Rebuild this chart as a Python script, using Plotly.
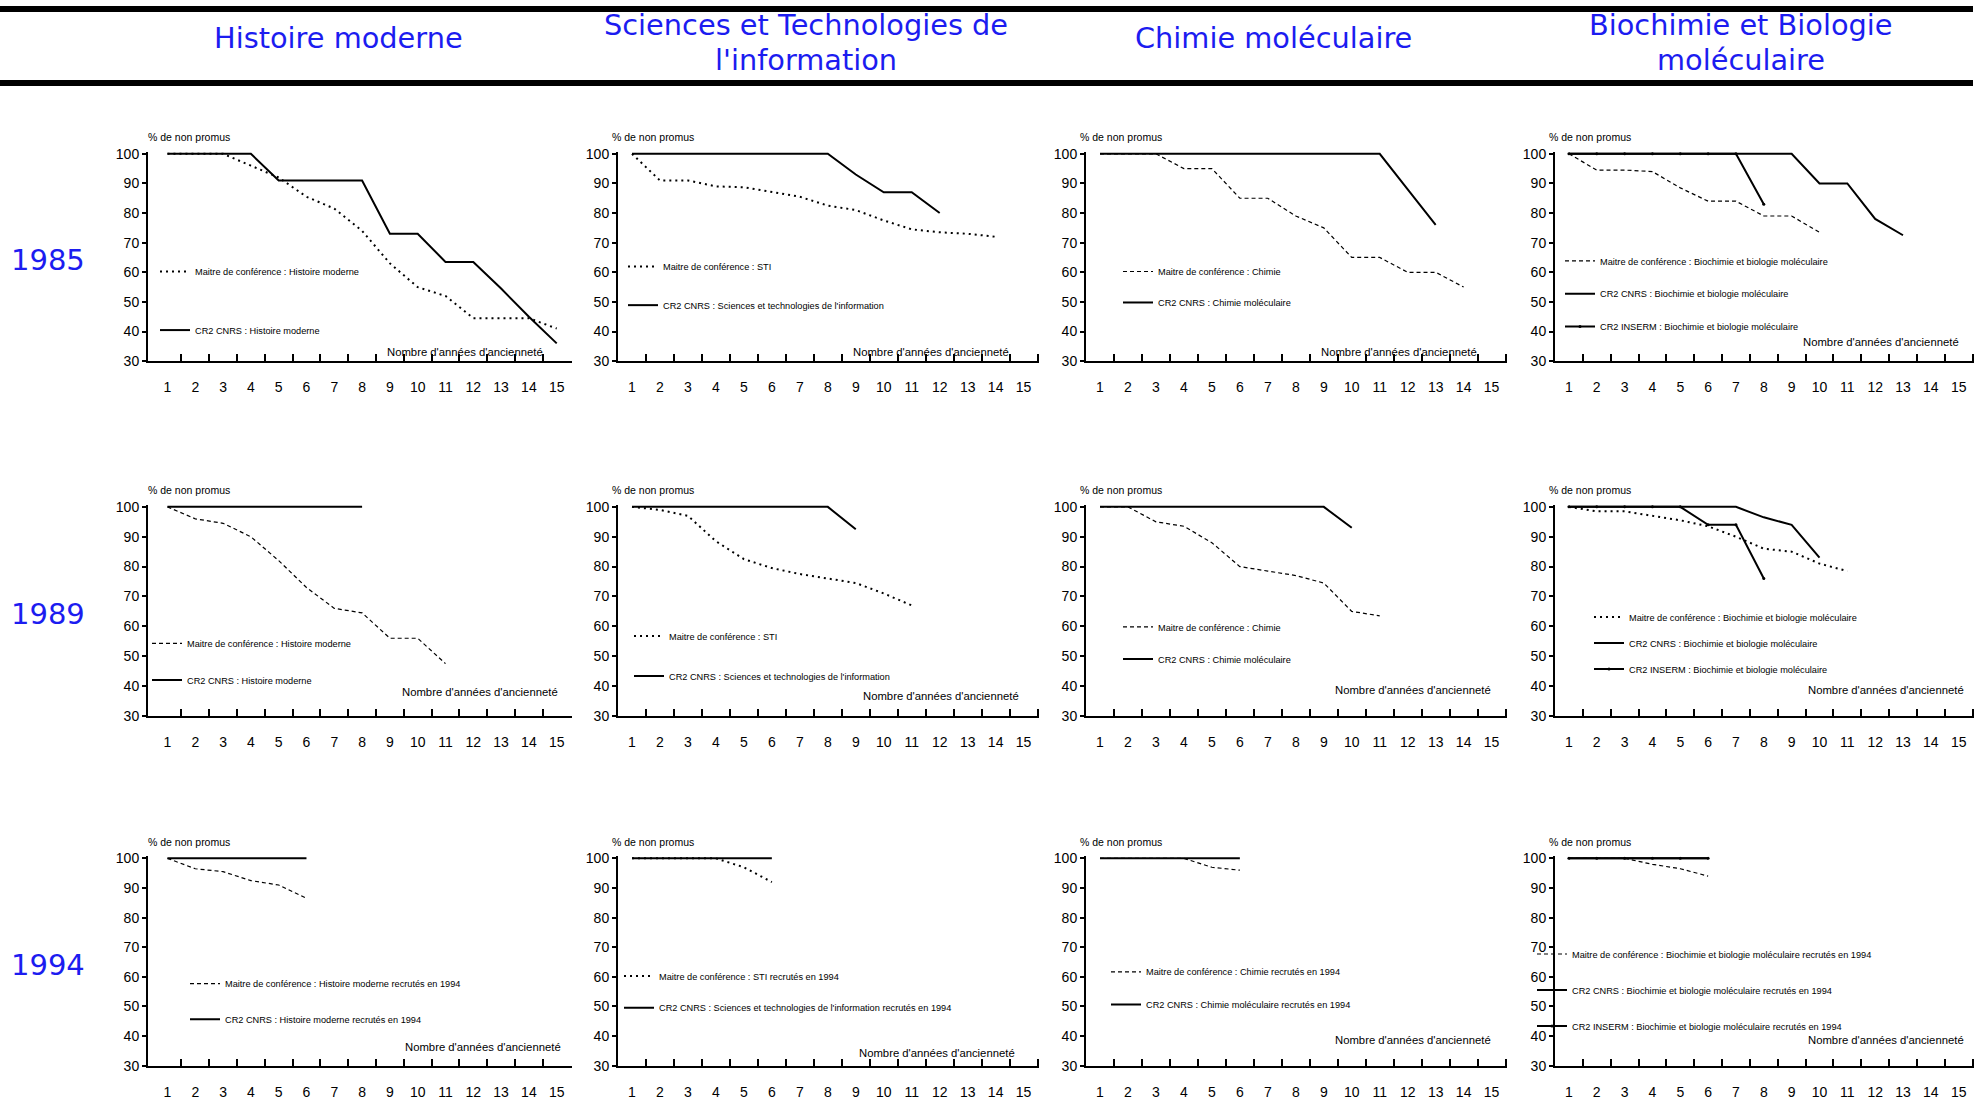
import plotly.graph_objects as go

# ---------------- data ----------------
years = ["1985", "1989", "1994"]
disciplines = [["Histoire moderne"], ["Sciences et Technologies de", "l'information"],
               ["Chimie moléculaire"], ["Biochimie et Biologie", "moléculaire"]]
x_years = list(range(1, 16))
x_ticktext = [str(v) for v in x_years]
y_ticks = [30, 40, 50, 60, 70, 80, 90, 100]

# 1985
mdc_hist_1985 = [100, 100, 100, 96, 92, 85.5, 81.5, 74, 63, 55, 52, 44.5, 44.5, 44.5, 41]
cnrs_hist_1985 = [100, 100, 100, 100, 91, 91, 91, 91, 73, 73, 63.5, 63.5, 54.5, 45, 36]
mdc_sti_1985 = [100, 91, 91, 89, 88.7, 87, 85.5, 82.5, 81, 77.5, 74.5, 73.5, 73, 72]
cnrs_sti_1985 = [100, 100, 100, 100, 100, 100, 100, 100, 93, 87, 87, 80]
mdc_chim_1985 = [100, 100, 100, 95, 95, 85, 85, 79, 75, 65, 65, 60, 60, 55]
cnrs_chim_1985 = [100, 100, 100, 100, 100, 100, 100, 100, 100, 100, 100, 88, 76]
mdc_bio_1985 = [100, 94.5, 94.5, 94, 88.5, 84, 84, 79, 79, 73.5]
cnrs_bio_1985 = [100, 100, 100, 100, 100, 100, 100, 100, 100, 90, 90, 78, 72.5]
inserm_bio_1985 = [100, 100, 100, 100, 100, 100, 100, 83]

# 1989
mdc_hist_1989 = [100, 96, 94.5, 90, 82, 73, 66, 64.5, 56, 56, 47.5]
cnrs_hist_1989 = [100, 100, 100, 100, 100, 100, 100, 100]
mdc_sti_1989 = [100, 99, 97, 88.5, 82.5, 79.5, 77.5, 76, 74.5, 71, 67]
cnrs_sti_1989 = [100, 100, 100, 100, 100, 100, 100, 100, 92.5]
mdc_chim_1989 = [100, 100, 95, 93.5, 88, 80, 78.5, 77, 74.5, 65, 63.5]
cnrs_chim_1989 = [100, 100, 100, 100, 100, 100, 100, 100, 100, 93]
mdc_bio_1989 = [100, 98.5, 98.5, 97, 95.5, 93.5, 90, 86, 85, 81, 78.5]
cnrs_bio_1989 = [100, 100, 100, 100, 100, 100, 100, 96.5, 94, 83]
inserm_bio_1989 = [100, 100, 100, 100, 100, 94, 94, 76]

# 1994
mdc_hist_1994 = [100, 96.5, 95.5, 92.5, 91, 86.5]
cnrs_hist_1994 = [100, 100, 100, 100, 100, 100]
mdc_sti_1994 = [100, 100, 100, 100, 97, 92]
cnrs_sti_1994 = [100, 100, 100, 100, 100, 100]
mdc_chim_1994 = [100, 100, 100, 100, 97, 96]
cnrs_chim_1994 = [100, 100, 100, 100, 100, 100]
mdc_bio_1994 = [100, 100, 100, 98, 96.5, 94]
cnrs_bio_1994 = [100, 100, 100, 100, 100, 100]
inserm_bio_1994 = [100, 100, 100, 100, 100, 100]

S94 = " recrutés en 1994"
panels = [
    # row 1985
    [("Maitre de conférence : Histoire moderne", mdc_hist_1985, "mdc_sq"),
     ("CR2 CNRS : Histoire moderne", cnrs_hist_1985, "cnrs")],
    [("Maitre de conférence : STI", mdc_sti_1985, "mdc_sq"),
     ("CR2 CNRS : Sciences et technologies de l'information", cnrs_sti_1985, "cnrs")],
    [("Maitre de conférence : Chimie", mdc_chim_1985, "mdc_dash"),
     ("CR2 CNRS : Chimie moléculaire", cnrs_chim_1985, "cnrs")],
    [("Maitre de conférence : Biochimie et biologie moléculaire", mdc_bio_1985, "mdc_dash"),
     ("CR2 CNRS : Biochimie et biologie moléculaire", cnrs_bio_1985, "cnrs"),
     ("CR2 INSERM : Biochimie et biologie moléculaire", inserm_bio_1985, "inserm")],
    # row 1989
    [("Maitre de conférence : Histoire moderne", mdc_hist_1989, "mdc_dash"),
     ("CR2 CNRS : Histoire moderne", cnrs_hist_1989, "cnrs")],
    [("Maitre de conférence : STI", mdc_sti_1989, "mdc_sq"),
     ("CR2 CNRS : Sciences et technologies de l'information", cnrs_sti_1989, "cnrs")],
    [("Maitre de conférence : Chimie", mdc_chim_1989, "mdc_dash"),
     ("CR2 CNRS : Chimie moléculaire", cnrs_chim_1989, "cnrs")],
    [("Maitre de conférence : Biochimie et biologie moléculaire", mdc_bio_1989, "mdc_sq"),
     ("CR2 CNRS : Biochimie et biologie moléculaire", cnrs_bio_1989, "cnrs"),
     ("CR2 INSERM : Biochimie et biologie moléculaire", inserm_bio_1989, "inserm")],
    # row 1994
    [("Maitre de conférence : Histoire moderne" + S94, mdc_hist_1994, "mdc_dash"),
     ("CR2 CNRS : Histoire moderne" + S94, cnrs_hist_1994, "cnrs")],
    [("Maitre de conférence : STI" + S94, mdc_sti_1994, "mdc_sq"),
     ("CR2 CNRS : Sciences et technologies de l'information" + S94, cnrs_sti_1994, "cnrs")],
    [("Maitre de conférence : Chimie" + S94, mdc_chim_1994, "mdc_dash"),
     ("CR2 CNRS : Chimie moléculaire" + S94, cnrs_chim_1994, "cnrs")],
    [("Maitre de conférence : Biochimie et biologie moléculaire" + S94, mdc_bio_1994, "mdc_dash"),
     ("CR2 CNRS : Biochimie et biologie moléculaire" + S94, cnrs_bio_1994, "cnrs"),
     ("CR2 INSERM : Biochimie et biologie moléculaire" + S94, inserm_bio_1994, "inserm")],
]

# ---------------- layout geometry (pixels) ----------------
W, H = 1986, 1105
col_px = [(148, 572, 0.3), (618, 1039, 0.5), (1086, 1507, 0.5), (1555, 1974, 0.5)]
row_px = [(149.7, 359.7), (507.3, 719.0), (863.3, 1073.3)]  # pixel of value 100 and 30
YMAX = 100.7
# legend: text start x, first item centre y, spacing between items
legend_px = [
    (195, 268.7, 58.6), (663, 263.7, 38.6), (1158, 268.7, 31), (1600, 258, 32.8),
    (187, 645.3, 36.7), (669, 638, 40), (1158, 628.7, 32), (1629, 618.7, 26),
    (225, 990, 35.7), (659, 982.3, 31.7), (1146, 978, 32.7), (1572, 960, 36),
]
nombre_pos = [
    (11.7, 33), (11.7, 33), (11.7, 33), (12.2, 36.6),
    (12.25, 38), (12.06, 36.5), (12.2, 38.7), (12.4, 38.7),
    (12.36, 36.4), (11.9, 34.2), (12.2, 38.7), (12.4, 38.7),
]

SANS = "Liberation Sans, Arial, sans-serif"
TITLE_FONT = "DejaVu Sans, Verdana, sans-serif"
BLUE = "#1c1cf0"

styles = {
    "mdc_sq": dict(mode="lines", line=dict(color="black", width=2, dash="2px,4px")),
    "mdc_dash": dict(mode="lines", line=dict(color="black", width=1.2, dash="4px,3px")),
    "cnrs": dict(mode="lines", line=dict(color="black", width=2)),
    "inserm": dict(mode="lines+markers", line=dict(color="black", width=2),
                   marker=dict(color="black", size=3)),
}

fig = go.Figure()
layout = dict(width=W, height=H, margin=dict(l=0, r=0, t=0, b=0),
              paper_bgcolor="white", plot_bgcolor="white", showlegend=True)
annotations = []
shapes = []

for k0, series in enumerate(panels):
    r, c = divmod(k0, 4)
    k = k0 + 1
    xs = "" if k == 1 else str(k)
    lgname = "legend" if k == 1 else f"legend{k}"
    xl, xr, xmin = col_px[c]
    T, B = row_px[r]
    top = T - (YMAX - 100) * (B - T) / 70.0

    for j, (name, vals, kind) in enumerate(series):
        fig.add_trace(go.Scatter(
            x=x_years[:len(vals)], y=vals, name=name,
            xaxis="x" + xs, yaxis="y" + xs,
            legend=lgname, legendgroup=f"g{k}_{j}", showlegend=True,
            hoverinfo="skip", **styles[kind]))

    layout["xaxis" + xs] = dict(
        domain=[xl / W, xr / W], range=[xmin, 15.55], anchor="y" + xs,
        showline=True, linecolor="black", linewidth=2, showgrid=False, zeroline=False,
        tickmode="array", tickvals=x_years, ticktext=x_ticktext,
        ticks="outside", ticklen=12, tickcolor="rgba(0,0,0,0)",
        tickfont=dict(family=SANS, size=14, color="black"),
        minor=dict(tickmode="array",
                   tickvals=[v + 0.5 for v in x_years[:(14 if c == 0 else 15)]],
                   ticks="inside", ticklen=7, tickwidth=2, tickcolor="black"),
        fixedrange=True)
    layout["yaxis" + xs] = dict(
        domain=[1 - B / H, 1 - top / H], range=[30, YMAX], anchor="x" + xs,
        showline=True, linecolor="black", linewidth=2, showgrid=False, zeroline=False,
        tickmode="array", tickvals=y_ticks, ticks="outside", ticklen=4,
        tickwidth=1.5, tickcolor="black",
        tickfont=dict(family=SANS, size=14, color="black"), fixedrange=True)

    tx, cy, gap = legend_px[k0]
    layout[lgname] = dict(
        x=(tx - 40) / W, y=1 - (cy - 14.5) / H, xanchor="left", yanchor="top",
        bgcolor="rgba(0,0,0,0)", borderwidth=0, tracegroupgap=max(gap - 19, 0),
        font=dict(family=SANS, size=9.2, color="black"), itemclick=False,
        itemdoubleclick=False)

    annotations.append(dict(
        text="% de non promus", xref="x" + xs + " domain", yref="y" + xs + " domain",
        x=0, y=(105 - 30) / (YMAX - 30), xanchor="left", yanchor="middle",
        xshift=(-2 if c == 0 else -8), yshift=2,
        showarrow=False, font=dict(family=SANS, size=10.5, color="black")))
    nx, ny = nombre_pos[k0]
    annotations.append(dict(
        text="Nombre d'années d'ancienneté", xref="x" + xs, yref="y" + xs,
        x=nx, y=ny, xanchor="center", yanchor="middle", showarrow=False,
        font=dict(family=SANS, size=11.3, color="black")))

# column headers (one annotation per text line)
col_centers = [338, 806, 1273, 1741]
single_line_y = 32.5
two_line_y = [19.5, 54.5]
for c, lines in enumerate(disciplines):
    ys = [single_line_y] if len(lines) == 1 else two_line_y
    for line_text, ypx in zip(lines, ys):
        annotations.append(dict(
            text=line_text, xref="paper", yref="paper", x=col_centers[c] / W,
            y=1 - ypx / H, xanchor="center", yanchor="middle", showarrow=False,
            font=dict(family=TITLE_FONT, size=28.8, color=BLUE)))

# row labels
row_centers = [257, 615.6, 971.5]
for r, yr in enumerate(years):
    annotations.append(dict(
        text=yr, xref="paper", yref="paper", x=48 / W, y=1 - row_centers[r] / H,
        xanchor="center", yanchor="middle", showarrow=False,
        font=dict(family=TITLE_FONT, size=29, color=BLUE)))

# header rules
shapes.append(dict(type="rect", xref="paper", yref="paper", x0=0, x1=1973 / W,
                   y0=1 - 6 / H, y1=1, fillcolor="black", line=dict(width=0)))
shapes.append(dict(type="rect", xref="paper", yref="paper", x0=0, x1=1973 / W,
                   y0=1 - 81 / H, y1=1 - 75 / H, fillcolor="black", line=dict(width=0)))

layout["annotations"] = annotations
layout["shapes"] = shapes
fig.update_layout(**layout)

fig.write_html("out.html", config={"displayModeBar": False},
               post_script="document.body.style.margin='0';document.body.style.overflow='hidden';")
